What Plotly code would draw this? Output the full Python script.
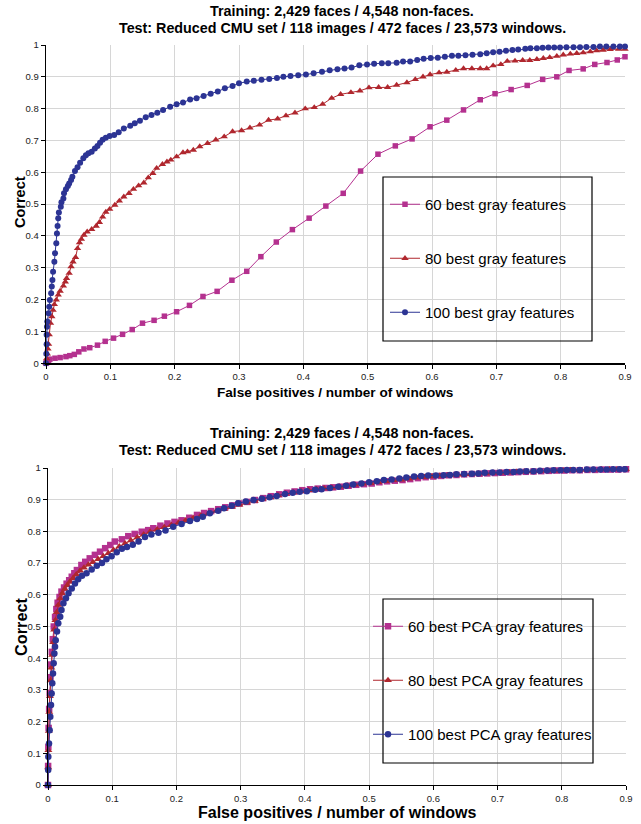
import plotly.graph_objects as go

# ---------------- data ----------------
title_lines = ["Training: 2,429 faces / 4,548 non-faces.",
               "Test: Reduced CMU set / 118 images / 472 faces / 23,573 windows."]
x_title = "False positives / number of windows"
y_title = "Correct"

top_names = ["60 best gray features", "80 best gray features", "100 best gray features"]
bot_names = ["60 best PCA gray features", "80 best PCA gray features", "100 best PCA gray features"]

top60_x = [0, 0.001, 0.002, 0.004, 0.006, 0.014, 0.022, 0.031, 0.037, 0.044,
           0.051, 0.059, 0.068, 0.080, 0.092, 0.105, 0.119, 0.134, 0.150, 0.168,
           0.184, 0.203, 0.223, 0.244, 0.266, 0.289, 0.312, 0.334, 0.358, 0.383,
           0.409, 0.435, 0.462, 0.489, 0.516, 0.543, 0.569, 0.597, 0.623, 0.649,
           0.675, 0.698, 0.723, 0.748, 0.772, 0.794, 0.813, 0.835, 0.853, 0.872,
           0.888, 0.900]
top60_y = [0, 0.002, 0.005, 0.009, 0.013, 0.016, 0.018, 0.021, 0.024, 0.028,
           0.036, 0.045, 0.049, 0.057, 0.069, 0.079, 0.091, 0.106, 0.126, 0.135,
           0.148, 0.162, 0.182, 0.210, 0.226, 0.261, 0.289, 0.335, 0.381, 0.420,
           0.456, 0.494, 0.534, 0.604, 0.657, 0.683, 0.705, 0.743, 0.764, 0.796,
           0.828, 0.847, 0.860, 0.873, 0.892, 0.900, 0.920, 0.925, 0.939, 0.945,
           0.953, 0.963]

top80_x = [0, 0.001, 0.002, 0.003, 0.004, 0.005, 0.007, 0.009, 0.011, 0.013,
           0.016, 0.019, 0.022, 0.027, 0.030, 0.032, 0.036, 0.039, 0.042, 0.046,
           0.049, 0.052, 0.055, 0.059, 0.064, 0.071, 0.078, 0.083, 0.088, 0.093,
           0.099, 0.107, 0.114, 0.121, 0.129, 0.136, 0.144, 0.152, 0.159, 0.166,
           0.172, 0.181, 0.188, 0.194, 0.203, 0.213, 0.220, 0.229, 0.239, 0.251,
           0.264, 0.277, 0.290, 0.304, 0.317, 0.332, 0.346, 0.360, 0.373, 0.387,
           0.403, 0.417, 0.430, 0.444, 0.458, 0.474, 0.488, 0.502, 0.517, 0.531,
           0.545, 0.561, 0.574, 0.586, 0.597, 0.611, 0.623, 0.637, 0.649, 0.662,
           0.675, 0.685, 0.695, 0.707, 0.717, 0.729, 0.741, 0.752, 0.763, 0.773,
           0.783, 0.794, 0.804, 0.815, 0.825, 0.835, 0.846, 0.856, 0.866, 0.877,
           0.890, 0.900]
top80_y = [0, 0.015, 0.030, 0.045, 0.060, 0.090, 0.126, 0.147, 0.167, 0.185,
           0.199, 0.215, 0.227, 0.243, 0.256, 0.267, 0.283, 0.304, 0.319, 0.333,
           0.361, 0.379, 0.390, 0.403, 0.413, 0.421, 0.431, 0.443, 0.460, 0.475,
           0.484, 0.497, 0.510, 0.523, 0.534, 0.547, 0.558, 0.567, 0.583, 0.597,
           0.613, 0.625, 0.633, 0.639, 0.649, 0.662, 0.665, 0.670, 0.681, 0.691,
           0.702, 0.712, 0.728, 0.731, 0.740, 0.749, 0.764, 0.768, 0.778, 0.787,
           0.800, 0.804, 0.814, 0.833, 0.845, 0.851, 0.856, 0.866, 0.867, 0.867,
           0.874, 0.882, 0.892, 0.900, 0.907, 0.913, 0.915, 0.921, 0.926, 0.926,
           0.926, 0.926, 0.935, 0.939, 0.949, 0.950, 0.952, 0.952, 0.955, 0.958,
           0.961, 0.965, 0.969, 0.972, 0.974, 0.976, 0.979, 0.982, 0.984, 0.986,
           0.987, 0.987]

top100_x = [0, 0.0005, 0.001, 0.001, 0.0015, 0.002, 0.004, 0.005, 0.006, 0.008,
            0.009, 0.010, 0.011, 0.013, 0.014, 0.016, 0.017, 0.018, 0.019, 0.020,
            0.023, 0.024, 0.027, 0.028, 0.031, 0.034, 0.036, 0.039, 0.041, 0.045,
            0.049, 0.053, 0.058, 0.062, 0.066, 0.071, 0.076, 0.080, 0.084, 0.088,
            0.093, 0.099, 0.106, 0.113, 0.121, 0.131, 0.138, 0.146, 0.155, 0.164,
            0.173, 0.182, 0.193, 0.203, 0.213, 0.224, 0.234, 0.245, 0.256, 0.267,
            0.278, 0.290, 0.300, 0.312, 0.323, 0.335, 0.347, 0.359, 0.369, 0.380,
            0.392, 0.404, 0.416, 0.429, 0.441, 0.453, 0.464, 0.475, 0.487, 0.499,
            0.510, 0.522, 0.532, 0.545, 0.555, 0.566, 0.577, 0.587, 0.598, 0.609,
            0.620, 0.631, 0.641, 0.652, 0.663, 0.675, 0.685, 0.695, 0.705, 0.715,
            0.725, 0.734, 0.745, 0.753, 0.763, 0.772, 0.781, 0.790, 0.799, 0.809,
            0.820, 0.830, 0.840, 0.851, 0.861, 0.871, 0.882, 0.892, 0.900]
top100_y = [0, 0.030, 0.060, 0.090, 0.115, 0.131, 0.157, 0.178, 0.199, 0.220,
            0.241, 0.262, 0.288, 0.319, 0.346, 0.377, 0.408, 0.431, 0.456, 0.474,
            0.492, 0.506, 0.518, 0.534, 0.547, 0.557, 0.565, 0.576, 0.586, 0.604,
            0.616, 0.630, 0.644, 0.654, 0.660, 0.665, 0.675, 0.683, 0.693, 0.702,
            0.709, 0.714, 0.717, 0.726, 0.738, 0.746, 0.754, 0.762, 0.773, 0.780,
            0.787, 0.796, 0.806, 0.814, 0.819, 0.829, 0.833, 0.840, 0.847, 0.854,
            0.864, 0.871, 0.880, 0.885, 0.888, 0.891, 0.893, 0.896, 0.900, 0.903,
            0.905, 0.907, 0.911, 0.916, 0.921, 0.924, 0.926, 0.929, 0.936, 0.939,
            0.941, 0.943, 0.943, 0.944, 0.948, 0.948, 0.953, 0.957, 0.959, 0.960,
            0.963, 0.966, 0.966, 0.968, 0.969, 0.971, 0.974, 0.977, 0.979, 0.982,
            0.984, 0.986, 0.988, 0.990, 0.990, 0.991, 0.992, 0.992, 0.992, 0.993,
            0.993, 0.993, 0.994, 0.994, 0.995, 0.995, 0.995, 0.995, 0.995]

bot60_x = [0, 0.0002, 0.0005, 0.001, 0.0018, 0.0027, 0.0037, 0.0048, 0.006, 0.0075,
           0.009, 0.011, 0.013, 0.015, 0.018, 0.021, 0.025, 0.029, 0.033, 0.037,
           0.041, 0.045, 0.052, 0.058, 0.065, 0.073, 0.081, 0.089, 0.097, 0.104,
           0.115, 0.125, 0.135, 0.146, 0.156, 0.164, 0.175, 0.186, 0.197, 0.208,
           0.220, 0.232, 0.243, 0.254, 0.265, 0.276, 0.287, 0.298, 0.310, 0.322,
           0.335, 0.347, 0.360, 0.372, 0.384, 0.396, 0.408, 0.420, 0.432, 0.444,
           0.456, 0.468, 0.480, 0.492, 0.504, 0.516, 0.528, 0.540, 0.552, 0.564,
           0.576, 0.588, 0.600, 0.612, 0.624, 0.636, 0.648, 0.660, 0.672, 0.684,
           0.696, 0.708, 0.720, 0.732, 0.744, 0.756, 0.768, 0.780, 0.792, 0.804,
           0.816, 0.828, 0.840, 0.852, 0.864, 0.876, 0.888, 0.900]
bot60_y = [0, 0.06, 0.12, 0.18, 0.24, 0.29, 0.34, 0.38, 0.42, 0.46,
           0.50, 0.53, 0.555, 0.575, 0.593, 0.610, 0.623, 0.635, 0.646, 0.657,
           0.668, 0.678, 0.694, 0.704, 0.715, 0.726, 0.736, 0.747, 0.757, 0.768,
           0.775, 0.785, 0.792, 0.799, 0.804, 0.810, 0.818, 0.825, 0.830, 0.835,
           0.843, 0.852, 0.858, 0.864, 0.870, 0.876, 0.882, 0.888, 0.893, 0.899,
           0.905, 0.911, 0.917, 0.922, 0.926, 0.930, 0.933, 0.935, 0.937, 0.939,
           0.941, 0.944, 0.947, 0.949, 0.951, 0.955, 0.958, 0.960, 0.962, 0.965,
           0.968, 0.971, 0.973, 0.975, 0.977, 0.978, 0.980, 0.981, 0.982, 0.983,
           0.984, 0.985, 0.986, 0.987, 0.988, 0.989, 0.990, 0.991, 0.992, 0.992,
           0.993, 0.993, 0.994, 0.994, 0.995, 0.995, 0.995, 0.996]

bot80_x = [0, 0.0002, 0.0006, 0.0012, 0.002, 0.003, 0.004, 0.0052, 0.0065, 0.008,
           0.0095, 0.0115, 0.0135, 0.016, 0.019, 0.022, 0.026, 0.030, 0.034, 0.039,
           0.044, 0.050, 0.056, 0.063, 0.070, 0.078, 0.086, 0.094, 0.102, 0.111,
           0.120, 0.129, 0.139, 0.149, 0.159, 0.170, 0.181, 0.192, 0.203, 0.214,
           0.226, 0.238, 0.250, 0.262, 0.274, 0.286, 0.298, 0.310, 0.322, 0.334,
           0.346, 0.358, 0.370, 0.382, 0.394, 0.406, 0.418, 0.430, 0.442, 0.454,
           0.466, 0.478, 0.490, 0.502, 0.514, 0.526, 0.538, 0.550, 0.562, 0.574,
           0.586, 0.598, 0.610, 0.622, 0.634, 0.646, 0.658, 0.670, 0.682, 0.694,
           0.706, 0.718, 0.730, 0.742, 0.754, 0.766, 0.778, 0.790, 0.802, 0.814,
           0.826, 0.838, 0.850, 0.862, 0.874, 0.886, 0.900]
bot80_y = [0, 0.055, 0.11, 0.17, 0.23, 0.28, 0.33, 0.37, 0.41, 0.45,
           0.49, 0.52, 0.545, 0.568, 0.588, 0.604, 0.618, 0.630, 0.641, 0.652,
           0.664, 0.676, 0.685, 0.695, 0.703, 0.712, 0.722, 0.731, 0.741, 0.752,
           0.762, 0.771, 0.781, 0.790, 0.799, 0.806, 0.813, 0.820, 0.827, 0.834,
           0.842, 0.850, 0.857, 0.864, 0.870, 0.877, 0.884, 0.890, 0.896, 0.902,
           0.908, 0.914, 0.919, 0.923, 0.927, 0.930, 0.933, 0.935, 0.938, 0.941,
           0.944, 0.947, 0.950, 0.952, 0.955, 0.958, 0.961, 0.963, 0.966, 0.969,
           0.971, 0.973, 0.975, 0.976, 0.978, 0.979, 0.980, 0.982, 0.983, 0.984,
           0.985, 0.986, 0.987, 0.988, 0.989, 0.990, 0.991, 0.991, 0.992, 0.993,
           0.993, 0.994, 0.994, 0.995, 0.995, 0.995, 0.996]

bot100_x = [0, 0.0003, 0.0005, 0.0016, 0.0026, 0.0036, 0.0047, 0.0057, 0.0067, 0.0078,
            0.0088, 0.0099, 0.011, 0.012, 0.014, 0.016, 0.019, 0.021, 0.024, 0.028,
            0.032, 0.037, 0.042, 0.047, 0.053, 0.060, 0.068, 0.076, 0.084, 0.091,
            0.099, 0.107, 0.115, 0.123, 0.132, 0.141, 0.151, 0.161, 0.172, 0.183,
            0.195, 0.208, 0.221, 0.232, 0.241, 0.252, 0.265, 0.274, 0.286, 0.296,
            0.308, 0.320, 0.333, 0.345, 0.356, 0.369, 0.381, 0.392, 0.403, 0.416,
            0.426, 0.439, 0.452, 0.464, 0.475, 0.488, 0.500, 0.512, 0.523, 0.535,
            0.547, 0.558, 0.570, 0.581, 0.592, 0.604, 0.616, 0.626, 0.636, 0.648,
            0.660, 0.670, 0.680, 0.692, 0.703, 0.714, 0.725, 0.735, 0.745, 0.756,
            0.766, 0.777, 0.787, 0.798, 0.808, 0.818, 0.828, 0.839, 0.849, 0.860,
            0.870, 0.880, 0.890, 0.898]
bot100_y = [0, 0.047, 0.089, 0.131, 0.173, 0.215, 0.252, 0.289, 0.321, 0.352,
            0.384, 0.415, 0.436, 0.457, 0.484, 0.510, 0.531, 0.552, 0.573, 0.589,
            0.605, 0.620, 0.636, 0.649, 0.660, 0.668, 0.680, 0.692, 0.700, 0.712,
            0.722, 0.734, 0.745, 0.751, 0.758, 0.768, 0.782, 0.790, 0.796, 0.803,
            0.815, 0.823, 0.833, 0.839, 0.846, 0.857, 0.865, 0.873, 0.881, 0.889,
            0.894, 0.899, 0.903, 0.908, 0.912, 0.918, 0.922, 0.925, 0.927, 0.931,
            0.933, 0.937, 0.941, 0.944, 0.948, 0.951, 0.955, 0.958, 0.962, 0.964,
            0.967, 0.970, 0.973, 0.975, 0.976, 0.976, 0.977, 0.978, 0.980, 0.981,
            0.982, 0.983, 0.985, 0.986, 0.986, 0.987, 0.987, 0.989, 0.990, 0.990,
            0.991, 0.992, 0.993, 0.993, 0.994, 0.994, 0.994, 0.995, 0.995, 0.995,
            0.995, 0.996, 0.996, 0.996]

for a, b in [(top60_x, top60_y), (top80_x, top80_y), (top100_x, top100_y),
             (bot60_x, bot60_y), (bot80_x, bot80_y), (bot100_x, bot100_y)]:
    assert len(a) == len(b), (len(a), len(b))

# ---------------- styling ----------------
W, H = 641, 824
FONT = "Liberation Sans, Arial, Helvetica, sans-serif"
MAG, RED, BLUE = "#B4318F", "#B0272E", "#2C3494"
symbols = ["square", "triangle-up", "circle"]
msizes_top = [5.5, 6.5, 6]
msizes_bot = [6.5, 7, 6.5]
colors = [MAG, RED, BLUE]

def px(x):
    return x / W

def py(y):
    return (H - y) / H

fig = go.Figure()

top_data = [(top60_x, top60_y), (top80_x, top80_y), (top100_x, top100_y)]
bot_data = [(bot60_x, bot60_y), (bot80_x, bot80_y), (bot100_x, bot100_y)]

for i, (xs, ys) in enumerate(top_data):
    fig.add_trace(go.Scatter(
        x=xs, y=ys, name=top_names[i], mode="lines+markers",
        line=dict(color=colors[i], width=1),
        marker=dict(symbol=symbols[i], size=msizes_top[i], color=colors[i]),
        xaxis="x", yaxis="y", legend="legend", legendgroup="t%d" % i,
        cliponaxis=False, showlegend=True))

for i, (xs, ys) in enumerate(bot_data):
    fig.add_trace(go.Scatter(
        x=xs, y=ys, name=bot_names[i], mode="lines+markers",
        line=dict(color=colors[i], width=1),
        marker=dict(symbol=symbols[i], size=msizes_bot[i], color=colors[i]),
        xaxis="x2", yaxis="y2", legend="legend2", legendgroup="b%d" % i,
        cliponaxis=False, showlegend=True))

axis_common = dict(
    showgrid=True, gridcolor="#d6d6d6", gridwidth=1,
    showline=True, linecolor="black", linewidth=1.3,
    ticks="outside", ticklen=4, tickcolor="black", tickwidth=1,
    tickfont=dict(family=FONT, size=9.5, color="#222"),
    zeroline=False, dtick=0.1, tick0=0, automargin=False,
)

top_xdom = [px(46), px(625)]
top_ydom = [py(363.3), py(45)]
bot_xdom = [px(48), px(626)]
bot_ydom = [py(785), py(468)]

fig.update_layout(
    width=W, height=H, autosize=False,
    margin=dict(l=0, r=0, t=0, b=0, pad=0, autoexpand=False),
    paper_bgcolor="white", plot_bgcolor="white",
    font=dict(family=FONT, color="black"),
    hovermode=False,
    xaxis=dict(domain=top_xdom, range=[0, 0.9], anchor="y", **axis_common),
    yaxis=dict(domain=top_ydom, range=[0, 1], anchor="x", **axis_common),
    xaxis2=dict(domain=bot_xdom, range=[0, 0.9], anchor="y2", **axis_common),
    yaxis2=dict(domain=bot_ydom, range=[0, 1], anchor="x2", **axis_common),
    legend=dict(x=px(385), y=py(188), xanchor="left", yanchor="top",
                bgcolor="rgba(0,0,0,0)", borderwidth=0,
                font=dict(family=FONT, size=15, color="black"),
                tracegroupgap=31.5, itemwidth=30),
    legend2=dict(x=px(368), y=py(610), xanchor="left", yanchor="top",
                 bgcolor="rgba(0,0,0,0)", borderwidth=0,
                 font=dict(family=FONT, size=15, color="black"),
                 tracegroupgap=31.5, itemwidth=30),
    showlegend=True,
)

shapes = [
    dict(type="rect", xref="paper", yref="paper",
         x0=px(383), x1=px(592), y0=py(341), y1=py(177),
         line=dict(color="black", width=1.2), fillcolor="rgba(0,0,0,0)"),
    dict(type="rect", xref="paper", yref="paper",
         x0=px(383), x1=px(593), y0=py(763), y1=py(599),
         line=dict(color="black", width=1.2), fillcolor="rgba(0,0,0,0)"),
]
fig.update_layout(shapes=shapes)

annotations = []
for cy_list in [(11, 28), (433, 450)]:
    for line, cy in zip(title_lines, cy_list):
        annotations.append(dict(text="<b>%s</b>" % line, x=px(342), y=py(cy),
                                xref="paper", yref="paper", showarrow=False,
                                xanchor="center", yanchor="middle",
                                font=dict(family=FONT, size=14.3, color="black")))
annotations += [
    dict(text="<b>%s</b>" % x_title, x=px(335), y=py(392), xref="paper", yref="paper",
         showarrow=False, xanchor="center", yanchor="middle",
         font=dict(family=FONT, size=13.6, color="black")),
    dict(text="<b>%s</b>" % y_title, x=px(20), y=py(202), xref="paper", yref="paper",
         showarrow=False, xanchor="center", yanchor="middle", textangle=-90,
         font=dict(family=FONT, size=14.5, color="black")),
    dict(text="<b>%s</b>" % x_title, x=px(337), y=py(812), xref="paper", yref="paper",
         showarrow=False, xanchor="center", yanchor="middle",
         font=dict(family=FONT, size=16, color="black")),
    dict(text="<b>%s</b>" % y_title, x=px(21), y=py(627), xref="paper", yref="paper",
         showarrow=False, xanchor="center", yanchor="middle", textangle=-90,
         font=dict(family=FONT, size=16.3, color="black")),
]
fig.update_layout(annotations=annotations)

fig.write_html("out.html",
               config={"displayModeBar": False, "staticPlot": True},
               post_script="document.body.style.margin='0';document.body.style.padding='0';")
